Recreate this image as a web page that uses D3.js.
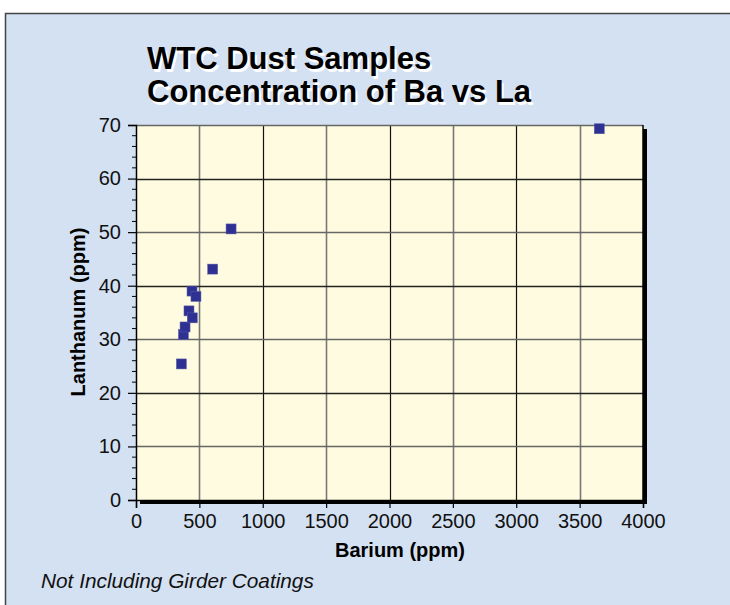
<html>
<head>
<script src="https://d3js.org/d3.v7.min.js"></script>
<style>
body { margin: 0; background: #ffffff; font-family: "Liberation Sans", Arial, sans-serif; }
</style>
</head>
<body>
<svg id="chart" width="730" height="605"></svg>
<script>
// values
var barium = [358, 374, 387, 418, 444, 442, 473, 605, 750, 3655];
var lanthanum = [25.4, 30.9, 32.3, 35.3, 34.0, 39.0, 38.0, 43.1, 50.6, 69.3];
var xTicks = [0, 500, 1000, 1500, 2000, 2500, 3000, 3500, 4000];
var yTicks = [0, 10, 20, 30, 40, 50, 60, 70];
var titleLines = ["WTC Dust Samples", "Concentration of Ba vs La"];

var svg = d3.select("#chart");

var pLeft = 136, pRight = 643, pTop = 125, pBottom = 500;
var xscale = d3.scaleLinear().domain([0, 4000]).range([pLeft, pRight]);
var yscale = d3.scaleLinear().domain([0, 70]).range([pBottom, pTop]);

// outer panel
svg.append("rect")
  .attr("x", 5.5).attr("y", 13.5)
  .attr("width", 740).attr("height", 600)
  .attr("fill", "#d4e1f3")
  .attr("stroke", "#444").attr("stroke-width", 1.5);

// title with white drop shadow
titleLines.forEach(function (t, i) {
  svg.append("text")
    .attr("x", 149).attr("y", 72 + i * 33)
    .attr("font-size", 31).attr("font-weight", "bold")
    .attr("fill", "#fff")
    .text(t);
  svg.append("text")
    .attr("x", 147).attr("y", 69 + i * 33)
    .attr("font-size", 31).attr("font-weight", "bold")
    .attr("fill", "#000")
    .text(t);
});

// plot shadow + background
svg.append("rect")
  .attr("x", pLeft + 4).attr("y", pTop + 4)
  .attr("width", pRight - pLeft).attr("height", pBottom - pTop)
  .attr("fill", "#000");
svg.append("rect")
  .attr("x", pLeft).attr("y", pTop)
  .attr("width", pRight - pLeft).attr("height", pBottom - pTop)
  .attr("fill", "#fffbe0");

// grid lines
var grid = svg.append("g");
grid.selectAll(".vg")
  .data(xTicks.slice(1, -1))
  .enter().append("line")
    .attr("x1", function (d) { return Math.round(xscale(d)) + 0.5; })
    .attr("x2", function (d) { return Math.round(xscale(d)) + 0.5; })
    .attr("y1", pTop).attr("y2", pBottom)
    .attr("stroke", function (d) { return d % 1000 == 0 ? "#111" : "#777"; })
    .attr("stroke-width", function (d) { return d % 1000 == 0 ? 1.2 : 1.6; });
grid.selectAll(".hg")
  .data(yTicks.slice(1, -1))
  .enter().append("line")
    .attr("y1", function (d) { return Math.round(yscale(d)) + 0.5; })
    .attr("y2", function (d) { return Math.round(yscale(d)) + 0.5; })
    .attr("x1", pLeft).attr("x2", pRight)
    .attr("stroke", function (d) { return d % 20 == 0 ? "#222" : "#666"; })
    .attr("stroke-width", 1.4);

// plot frame (top gray, right black)
svg.append("line")
  .attr("x1", pLeft).attr("x2", pRight)
  .attr("y1", pTop + 0.5).attr("y2", pTop + 0.5)
  .attr("stroke", "#666").attr("stroke-width", 1.5);
svg.append("line")
  .attr("x1", pRight).attr("x2", pRight)
  .attr("y1", pTop).attr("y2", pBottom)
  .attr("stroke", "#000").attr("stroke-width", 1.5);

// axes
var xAxis = d3.axisBottom(xscale).tickValues(xTicks).tickSize(8).tickPadding(6).tickFormat(d3.format("d"));
var yAxis = d3.axisLeft(yscale).tickValues(yTicks).tickSize(8).tickPadding(6);

var gx = svg.append("g").attr("transform", "translate(0," + pBottom + ")").call(xAxis);
var gy = svg.append("g").attr("transform", "translate(" + pLeft + ",0)").call(yAxis);

[gx, gy].forEach(function (g) {
  g.select(".domain").attr("stroke", "#000").attr("stroke-width", 1.5);
  g.selectAll(".tick line").attr("stroke", "#000").attr("stroke-width", 1.2);
  g.selectAll(".tick text")
    .attr("font-family", "Liberation Sans, Arial, sans-serif")
    .attr("font-size", 20).attr("fill", "#111");
});
gy.selectAll(".tick text").attr("x", -15);

// minor ticks
var xMinor = d3.range(0, 4001, 100).filter(function (d) { return d % 500 != 0; });
var yMinor = d3.range(0, 71, 2).filter(function (d) { return d % 10 != 0; });
svg.append("g").selectAll("line")
  .data(xMinor).enter().append("line")
    .attr("x1", function (d) { return xscale(d); })
    .attr("x2", function (d) { return xscale(d); })
    .attr("y1", pBottom).attr("y2", pBottom + 4)
    .attr("stroke", "#000").attr("stroke-width", 1);
svg.append("g").selectAll("line")
  .data(yMinor).enter().append("line")
    .attr("y1", function (d) { return yscale(d); })
    .attr("y2", function (d) { return yscale(d); })
    .attr("x1", pLeft - 4).attr("x2", pLeft)
    .attr("stroke", "#000").attr("stroke-width", 1);

// axis titles
svg.append("text")
  .attr("x", 400).attr("y", 557)
  .attr("text-anchor", "middle")
  .attr("font-size", 20).attr("font-weight", "bold")
  .text("Barium (ppm)");
svg.append("text")
  .attr("transform", "translate(85," + 312 + ") rotate(-90)")
  .attr("text-anchor", "middle")
  .attr("font-size", 20).attr("font-weight", "bold")
  .text("Lanthanum (ppm)");

// points
var pts = barium.map(function (b, i) { return { ba: b, la: lanthanum[i] }; });
svg.append("g").selectAll("rect")
  .data(pts).enter().append("rect")
    .attr("x", function (d) { return xscale(d.ba) - 5; })
    .attr("y", function (d) { return yscale(d.la) - 5; })
    .attr("width", 10).attr("height", 10)
    .attr("fill", "#2e3192")
    .attr("stroke", "#5a5cab").attr("stroke-width", 0.5);

// footnote
svg.append("text")
  .attr("x", 41).attr("y", 588)
  .attr("font-size", 20.8).attr("font-style", "italic")
  .attr("fill", "#111")
  .text("Not Including Girder Coatings");
</script>
</body>
</html>
